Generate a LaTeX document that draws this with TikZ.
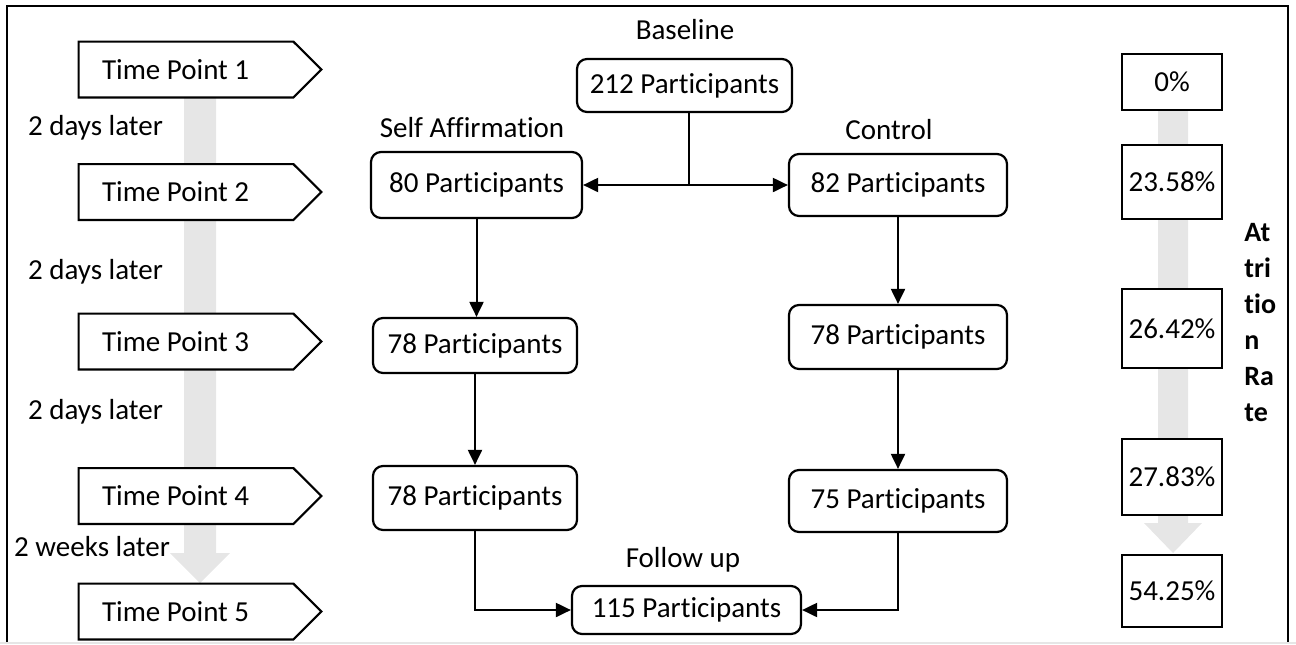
\documentclass[tikz,border=0pt]{standalone}
\usepackage{fontspec}
\setmainfont{Carlito}[RawFeature={-liga;-clig;-calt;-dlig}]
\usetikzlibrary{arrows.meta}
\definecolor{flowgray}{RGB}{230,230,230}
\tikzset{
  txt/.style={font=\fontsize{14.5}{17.4}\selectfont, inner sep=0pt},
  tpbox/.style={txt, rectangle, fill=white, minimum width=107pt, minimum height=27.5pt, text width=84pt, inner xsep=11.5pt, align=left},
  tpline/.style={line width=1.1pt, line join=miter},
  partbox/.style={txt, draw, line width=1.1pt, rounded corners=5pt, fill=white},
  ratebox/.style={txt, draw, line width=1.1pt, fill=white, minimum width=50pt},
  flow/.style={line width=1pt, -{Triangle[length=7.5pt,width=7pt]}},
}

\begin{document}
\begin{tikzpicture}[x=0.5pt,y=-0.5pt]
        \useasboundingbox (0,0) rectangle (1296,644);
        \draw[line width=1pt] (7,644) -- (7,6) -- (1288,6) -- (1288,644);
        \draw[flowgray, line width=1pt] (0,643) -- (1296,643);
        \fill[flowgray] (184,97) -- (216,97) -- (216,553) -- (230,553) -- (200,583) -- (170,553) -- (184,553) -- cycle;
        \fill[flowgray] (1158,110) -- (1188,110) -- (1188,523) -- (1202,523) -- (1173,553) -- (1144,523) -- (1158,523) -- cycle;
        \foreach \n/\y in {1/69.5,2/192,3/341.5,4/496,5/611.5} {
            \node[tpbox] (tp\n) at (186,\y) {\spaceskip=0pt Time Point \n};
            \draw[tpline] (tp\n.north west) -- (tp\n.north east) -- ([xshift=14pt]tp\n.east) -- (tp\n.south east) -- (tp\n.south west) -- cycle;
        }
        \node[txt] (gap1) at (95.5,128) {2 days later};
        \node[txt] (gap2) at (95.5,272) {2 days later};
        \node[txt] (gap3) at (95.5,412) {2 days later};
        \node[txt] (gap4) at (92,547) {2 weeks later};
        \node[partbox, minimum width=107.5pt, minimum height=26.5pt] (base) at (684.5,85.5) {212 Participants};
        \node[partbox, minimum width=105.5pt, minimum height=33pt] (sa1) at (476.5,185) {80 Participants};
        \node[partbox, minimum width=109pt, minimum height=31pt] (ct1) at (898,185) {82 Participants};
        \node[partbox, minimum width=102pt, minimum height=27.5pt] (sa2) at (475,345.5) {78 Participants};
        \node[partbox, minimum width=109pt, minimum height=32pt] (ct2) at (898,337) {78 Participants};
        \node[partbox, minimum width=102pt, minimum height=32pt] (sa3) at (475,498) {78 Participants};
        \node[partbox, minimum width=109pt, minimum height=31pt] (ct3) at (898,501) {75 Participants};
        \node[partbox, minimum width=114.5pt, minimum height=24pt] (fu) at (686.5,610) {115 Participants};
        \node[txt] (baselbl) at (685,30) {Baseline};
        \node[txt] (salbl) at (472,128) {Self Affirmation};
        \node[txt] (ctlbl) at (889,130) {Control};
        \node[txt] (fulbl) at (683,560) {Follow up};
        \coordinate (bs) at ([xshift=2.25pt]base.south);
        \coordinate (split) at (bs |- sa1.east);
        \draw[line width=0.6pt] (bs) -- (split);
        \draw[flow] (split) -- (sa1.east);
        \draw[flow] (split) -- (ct1.west);
        \draw[flow] (sa1.south) -- (sa1.south |- sa2.north);
        \draw[flow] (ct1.south) -- (ct2.north);
        \draw[flow] (sa2.south) -- (sa3.north);
        \draw[flow] (ct2.south) -- (ct3.north);
        \draw[flow] (sa3.south) |- (fu.west);
        \draw[flow] (ct3.south) |- (fu.east);
        \foreach \n/\y/\h/\v in {0/82/28/0\%,1/182/37/23.58\%,2/328.5/39.5/26.42\%,3/477/38/27.83\%,4/591/36/54.25\%} {
            \node[ratebox, minimum height=\h pt] (r\n) at (1172,\y) {\v};
        }
        \node[font=\fontsize{14}{18}\selectfont\bfseries, align=left, anchor=west, inner sep=0pt] (attr) at (1244,322.5) {At\\tri\\tio\\n\\Ra\\te};
    \end{tikzpicture}
\end{document}
